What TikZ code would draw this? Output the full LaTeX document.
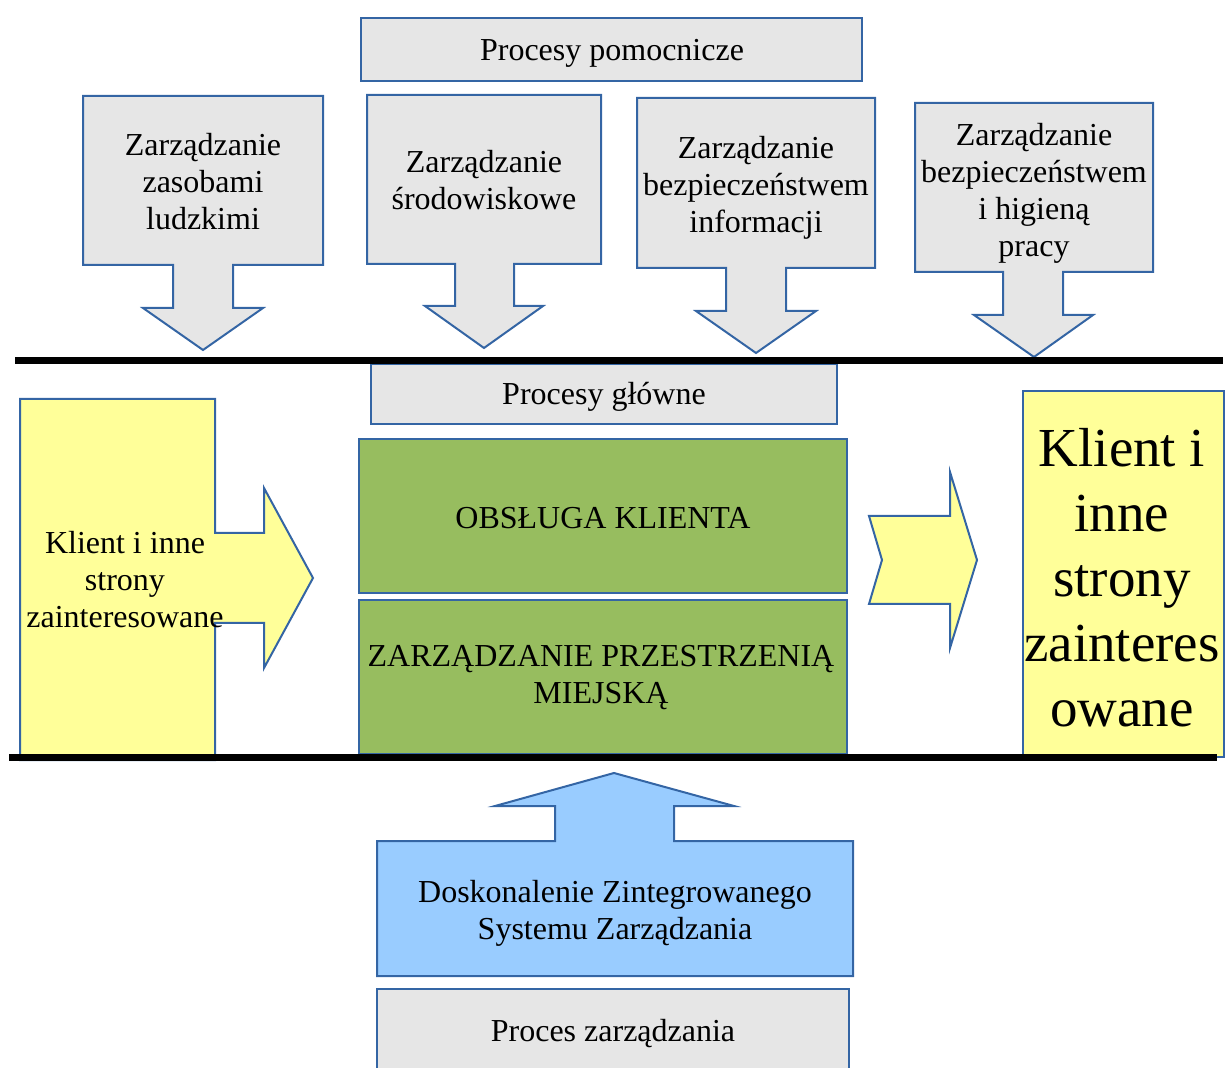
\documentclass[tikz,border=0pt]{standalone}
\usepackage{fontspec}
\setmainfont{Liberation Serif}
\usetikzlibrary{positioning}

\definecolor{frame}{HTML}{3465A4}
\definecolor{greyfill}{HTML}{E6E6E6}
\definecolor{yellowfill}{HTML}{FFFF99}
\definecolor{greenfill}{HTML}{97BD5F}
\definecolor{bluefill}{HTML}{99CCFF}

\begin{document}
\begin{tikzpicture}[x=0.5pt, y=-0.5pt, font=\fontsize{16}{18.5}\selectfont,
  box/.style={draw=frame, line width=1pt, inner sep=0pt},
  shape line/.style={draw=frame, line width=1pt, line join=miter},
  txt/.style={align=center, inner sep=0pt},
  bar/.style={line width=3.5pt}]

\useasboundingbox (0,0) rectangle (1225,1068);

% support processes
\node[box, fill=greyfill, minimum width=250.5pt, minimum height=31.5pt] (pomocnicze) at (611.5,49.5) {};
\node[txt] (pomocnicze text) at (612,53) {Procesy pomocnicze};

\draw[shape line, fill=greyfill] (83,96) -- (323,96) -- (323,265) -- (233,265) -- (233,308) -- (263,308) -- (203,350) -- (143,308) -- (173,308) -- (173,265) -- (83,265) -- cycle;
\draw[shape line, fill=greyfill] (367,95) -- (601,95) -- (601,264) -- (514,264) -- (514,306) -- (543,306) -- (484,348) -- (425,306) -- (455,306) -- (455,264) -- (367,264) -- cycle;
\draw[shape line, fill=greyfill] (637,98) -- (875,98) -- (875,268) -- (786,268) -- (786,311) -- (816,311) -- (756,353) -- (696,311) -- (726,311) -- (726,268) -- (637,268) -- cycle;
\draw[shape line, fill=greyfill] (915,103) -- (1153,103) -- (1153,272) -- (1063,272) -- (1063,315) -- (1093,315) -- (1034,357) -- (974,315) -- (1003,315) -- (1003,272) -- (915,272) -- cycle;

\node[txt] (kadry) at (203,182) {Zarządzanie\\zasobami\\ludzkimi};
\node[txt] (srodowisko) at (484,180.5) {Zarządzanie\\środowiskowe};
\node[txt] (informacja) at (756,188) {Zarządzanie\\bezpieczeństwem\\informacji};
\node[txt] (bhp) at (1034,193) {Zarządzanie\\bezpieczeństwem\\i higieną\\pracy};

% main processes
\node[box, fill=greyfill, minimum width=233pt, minimum height=30pt] (glowne) at (604,394) {};
\node[txt] (glowne text) at (604,397) {Procesy główne};

\draw[shape line, fill=yellowfill] (20,399) -- (215,399) -- (215,533) -- (264,533) -- (264,488) -- (313,578) -- (264,668) -- (264,623) -- (215,623) -- (215,760) -- (20,760) -- cycle;

\node[box, fill=greenfill, minimum width=244pt, minimum height=77pt] (obsluga) at (603,516) {};
\node[box, fill=greenfill, minimum width=244pt, minimum height=77pt, below=2.5pt of obsluga] (przestrzen) {};
\node[txt] (obsluga text) at (603,518) {OBSŁUGA KLIENTA};
\node[txt] (przestrzen text) at (601,678) {ZARZĄDZANIE PRZESTRZENIĄ\\MIEJSKĄ};

\draw[shape line, fill=yellowfill] (869,516) -- (950,516) -- (950,472) -- (977,560) -- (950,648) -- (950,604) -- (869,604) -- (882,560) -- cycle;

\node[box, fill=yellowfill, minimum width=100.5pt, minimum height=183pt] (klient out) at (1123.5,574) {};
\node[txt, font=\fontsize{27.5}{32.5}\selectfont] (klient out text) at (1122,578) {Klient i\\inne\\strony\\zainteres\\owane};

\node[txt] (klient in) at (125,580) {Klient i inne\\strony\\zainteresowane};

% separating lines
\coordinate (top left) at (15,361);
\coordinate (top right) at (1223,361);
\coordinate (bottom left) at (9,757);
\coordinate (bottom right) at (1217,757);
\draw[bar] (top left) -- (top right);
\draw[bar] (bottom left) -- (bottom right);

% management process
\draw[shape line, fill=bluefill] (377,841) -- (555,841) -- (555,806) -- (495,806) -- (614,773) -- (734,806) -- (674,806) -- (674,841) -- (853,841) -- (853,976) -- (377,976) -- cycle;
\node[txt] (doskonalenie) at (615,913) {Doskonalenie Zintegrowanego\\Systemu Zarządzania};

\node[box, fill=greyfill, minimum width=236pt, minimum height=45pt, anchor=north] (zarzadzanie) at (613,988) {};
\node[txt] (zarzadzanie text) at (613,1034) {Proces zarządzania};

\end{tikzpicture}
\end{document}
